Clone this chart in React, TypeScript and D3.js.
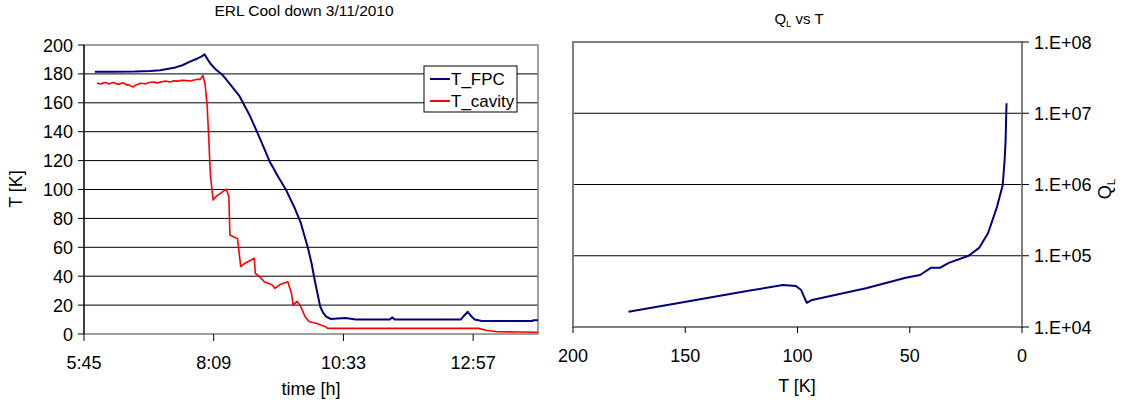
import React from "react";
import * as d3 from "d3";

// ---------- data ----------
const fpcHours = [5.96, 6.3, 6.7, 6.98, 7.17, 7.45, 7.58, 7.72, 7.85, 7.93, 7.99, 8.1, 8.2, 8.33, 8.48, 8.63, 8.83, 9.03, 9.2, 9.35, 9.5, 9.66, 9.77, 9.9, 9.97, 10.03, 10.08, 10.13, 10.18, 10.24, 10.33, 10.45, 10.6, 10.79, 11.1, 11.42, 11.46, 11.51, 12.0, 12.5, 12.73, 12.8, 12.86, 12.92, 12.99, 13.12, 13.6, 14.05, 14.08, 14.16];
const fpcTemp = [181.5, 181.5, 181.6, 182, 182.5, 184.5, 186, 188.5, 190.5, 192, 193.5, 187, 183, 179, 172, 165, 151, 134, 119, 109, 99.6, 87, 77, 60, 49, 37, 28, 19, 15, 12, 10.4, 10.8, 11, 10, 10, 10, 11.5, 10, 10, 10, 10, 13, 15.4, 12.5, 10, 9, 9, 9, 9.5, 9.5];

const cavHours = [6.0, 6.04, 6.08, 6.12, 6.17, 6.21, 6.25, 6.29, 6.33, 6.38, 6.42, 6.46, 6.5, 6.54, 6.58, 6.62, 6.67, 6.71, 6.75, 6.8, 6.85, 6.9, 6.95, 7.0, 7.05, 7.12, 7.2, 7.27, 7.35, 7.42, 7.5, 7.57, 7.65, 7.72, 7.8, 7.86, 7.91, 7.96, 8.0, 8.04, 8.07, 8.1, 8.15, 8.2, 8.29, 8.39, 8.44, 8.46, 8.54, 8.6, 8.66, 8.74, 8.91, 8.93, 9.0, 9.1, 9.24, 9.29, 9.4, 9.53, 9.6, 9.63, 9.7, 9.77, 9.85, 9.93, 10.07, 10.23, 10.27, 11.5, 12.5, 13.06, 13.2, 13.4, 13.8, 14.16];
const cavTemp = [173.7, 173.2, 173.0, 173.9, 174.0, 173.1, 173.3, 174.1, 173.8, 172.9, 172.9, 173.7, 173.6, 172.4, 172.6, 171.8, 171.0, 172.2, 172.6, 173.5, 173.4, 173.0, 173.9, 174.2, 174.3, 173.8, 174.6, 175.0, 174.4, 175.2, 175.0, 175.6, 175.4, 175.1, 175.8, 176.3, 176.2, 179, 173, 157, 134, 109, 92.7, 95, 97.5, 100.3, 95, 68.5, 67, 66, 46.6, 49, 52.4, 42, 40, 36, 34, 31.6, 34.5, 36.2, 28, 20, 22.6, 19, 12, 8.5, 7.3, 5, 3.9, 3.9, 3.9, 3.9, 2.6, 1.6, 1.4, 1.2];

const qlTemp = [175.3, 149.7, 122.5, 106.5, 100.7, 98.4, 97.1, 95.9, 93.5, 69.5, 51.8, 45.4, 40.6, 36.6, 32.6, 23.8, 19.1, 15.1, 11.1, 8.6, 7.75, 7.3, 6.9];
const qlLog = [4.215, 4.355, 4.505, 4.59, 4.575, 4.52, 4.425, 4.34, 4.38, 4.545, 4.69, 4.73, 4.83, 4.83, 4.9, 5.0, 5.11, 5.32, 5.69, 5.99, 6.34, 6.62, 7.14];

const leftYTicks = [0, 20, 40, 60, 80, 100, 120, 140, 160, 180, 200];
const timeTickHours = [5.76, 8.16, 10.56, 12.96];
const timeTickLabels = ["5:45", "8:09", "10:33", "12:57"];
const rightXTicks = [200, 150, 100, 50, 0];
const rightYTicks = [1e4, 1e5, 1e6, 1e7, 1e8];
const rightYLabels = ["1.E+04", "1.E+05", "1.E+06", "1.E+07", "1.E+08"];

const FONT = "'Liberation Sans', Arial, sans-serif";

export default function App() {
  // left chart
  const L = { x0: 84, x1: 538, y0: 45, y1: 334 };
  const xL = d3.scaleLinear().domain([5.76, 14.16]).range([L.x0, L.x1]);
  const yL = d3.scaleLinear().domain([0, 200]).range([L.y1, L.y0]);
  const lineL = d3.line<[number, number]>().x((d) => xL(d[0])).y((d) => yL(d[1]));
  const fpc = lineL(fpcHours.map((h, i) => [h, fpcTemp[i]] as [number, number])) || "";
  const cav = lineL(cavHours.map((h, i) => [h, cavTemp[i]] as [number, number])) || "";

  // right chart
  const R = { x0: 573, x1: 1022, y0: 42, y1: 327 };
  const xR = d3.scaleLinear().domain([200, 0]).range([R.x0, R.x1]);
  const yR = d3.scaleLog().domain([1e4, 1e8]).range([R.y1, R.y0]);
  const ql = d3.line<[number, number]>().x((d) => xR(d[0])).y((d) => yR(d[1]))(
    qlTemp.map((t, i) => [t, Math.pow(10, qlLog[i])] as [number, number])
  ) || "";

  return (
    <svg width={1125} height={408} style={{ position: "absolute", left: 0, top: 0, background: "#fff" }} fontFamily={FONT}>
      <rect x={0} y={0} width={1125} height={408} fill="#fff" />
      {/* ---------- LEFT CHART ---------- */}
      <text x={304} y={16} fontSize={15.5} textAnchor="middle">ERL Cool down 3/11/2010</text>
      {leftYTicks.filter((t) => t > 0 && t < 200).map((t) => (
        <line key={"g" + t} x1={L.x0} x2={L.x1} y1={yL(t)} y2={yL(t)} stroke="#000" strokeWidth={1} />
      ))}
      <rect x={L.x0} y={L.y0} width={L.x1 - L.x0} height={L.y1 - L.y0} fill="none" stroke="#808080" strokeWidth={1.5} />
      <line x1={L.x0} x2={L.x0} y1={L.y0} y2={L.y1} stroke="#000" strokeWidth={1.2} />
      {leftYTicks.map((t) => (
        <g key={"yt" + t}>
          <line x1={L.x0 - 6} x2={L.x0} y1={yL(t)} y2={yL(t)} stroke="#000" />
          <text x={73} y={yL(t) + 6.5} fontSize={18} textAnchor="end">{t}</text>
        </g>
      ))}
      {timeTickHours.map((h, i) => (
        <g key={"xt" + i}>
          <line x1={xL(h)} x2={xL(h)} y1={L.y1} y2={L.y1 + 7} stroke="#000" />
          <text x={xL(h)} y={369} fontSize={18} textAnchor="middle">{timeTickLabels[i]}</text>
        </g>
      ))}
      <text x={311} y={395} fontSize={18} textAnchor="middle">time [h]</text>
      <text transform={`translate(22,189) rotate(-90)`} fontSize={18} textAnchor="middle">T [K]</text>
      <path d={cav} fill="none" stroke="#ff0000" strokeWidth={1.6} strokeLinejoin="round" />
      <path d={fpc} fill="none" stroke="#000080" strokeWidth={2} strokeLinejoin="round" />
      {/* legend */}
      <rect x={424} y={66} width={93} height={46} fill="#fff" stroke="#000" strokeWidth={1} />
      <line x1={430} x2={450} y1={79} y2={79} stroke="#000080" strokeWidth={2} />
      <text x={451} y={85} fontSize={17}>T_FPC</text>
      <line x1={430} x2={450} y1={101} y2={101} stroke="#ff0000" strokeWidth={2} />
      <text x={451} y={107} fontSize={17}>T_cavity</text>

      {/* ---------- RIGHT CHART ---------- */}
      <text x={799} y={24} fontSize={15} textAnchor="middle">
        Q<tspan fontSize={9.5} dy={3}>L</tspan><tspan dy={-3}> vs T</tspan>
      </text>
      {rightYTicks.filter((t) => t > 1e4 && t < 1e8).map((t) => (
        <line key={"rg" + t} x1={R.x0} x2={R.x1} y1={yR(t)} y2={yR(t)} stroke="#000" strokeWidth={1} />
      ))}
      <rect x={R.x0} y={R.y0} width={R.x1 - R.x0} height={R.y1 - R.y0} fill="none" stroke="#808080" strokeWidth={2} />
      {rightYTicks.map((t, i) => (
        <g key={"ryt" + i}>
          <line x1={R.x1} x2={R.x1 + 7} y1={yR(t)} y2={yR(t)} stroke="#000" />
          <text x={1034} y={yR(t) + 6.5} fontSize={18}>{rightYLabels[i]}</text>
        </g>
      ))}
      {rightXTicks.map((t) => (
        <g key={"rxt" + t}>
          <line x1={xR(t)} x2={xR(t)} y1={R.y1} y2={R.y1 + 6} stroke="#000" />
          <text x={xR(t)} y={362} fontSize={18} textAnchor="middle">{t}</text>
        </g>
      ))}
      <text x={797} y={392} fontSize={18} textAnchor="middle">T [K]</text>
      <text transform={`translate(1111,189) rotate(-90)`} fontSize={18} textAnchor="middle">
        Q<tspan fontSize={11.5} dy={4}>L</tspan>
      </text>
      <path d={ql} fill="none" stroke="#000080" strokeWidth={2} strokeLinejoin="round" />
    </svg>
  );
}
